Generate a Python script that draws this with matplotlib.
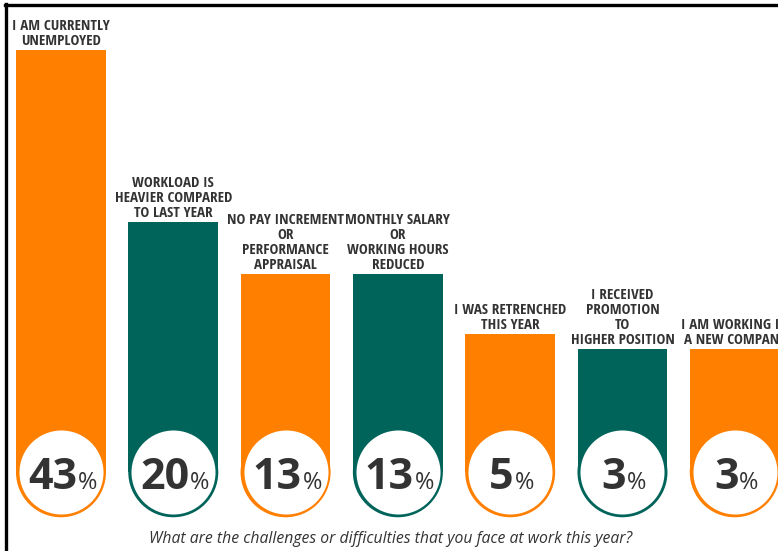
import matplotlib
matplotlib.use('Agg')
import matplotlib.pyplot as plt
from matplotlib import font_manager
from matplotlib.font_manager import FontProperties
from matplotlib.lines import Line2D

labels = [
    'I AM CURRENTLY\nUNEMPLOYED',
    'WORKLOAD IS\nHEAVIER COMPARED\nTO LAST YEAR',
    'NO PAY INCREMENT\nOR\nPERFORMANCE\nAPPRAISAL',
    'MONTHLY SALARY\nOR\nWORKING HOURS\nREDUCED',
    'I WAS RETRENCHED\nTHIS YEAR',
    'I RECEIVED\nPROMOTION\nTO\nHIGHER POSITION',
    'I AM WORKING IN\nA NEW COMPANY',
]
percent = [43, 20, 13, 13, 5, 3, 3]
colors = ['#FF7F00', '#00645A', '#FF7F00', '#00645A', '#FF7F00', '#00645A', '#FF7F00']
question = 'What are the challenges or difficulties that you face at work this year?'


def condensed_bold(size):
    # look for a bold condensed Open Sans face, otherwise fall back to the regular bold
    for f in font_manager.fontManager.ttflist:
        if 'Open Sans' in f.name and f.weight in (700, 'bold') and f.style == 'normal' \
                and ('ondensed' in f.name or f.stretch == 'condensed'):
            return FontProperties(fname=f.fname, size=size)
    return FontProperties(family='Open Sans', weight='bold', stretch='condensed', size=size)


label_fp = condensed_bold(10.8)

fig = plt.figure(figsize=(7.78, 5.51), dpi=100)
ax = fig.add_axes([0, 0, 1, 1])
ax.set_xlim(-0.543, 6.385)
ax.set_ylim(-24.04, 49.72)
ax.axis('off')

x = list(range(len(percent)))
base = -13.5  # centre of the round badge at the foot of each bar

ax.bar(x, [p - base for p in percent], bottom=base, width=0.8, color=colors, zorder=1)
ax.scatter(x, [base] * len(x), s=64.8 ** 2, c=colors, linewidths=0, zorder=2)
ax.scatter(x, [base] * len(x), s=60.5 ** 2, c='white', linewidths=0, zorder=3)

for xi, p, lab in zip(x, percent, labels):
    ax.annotate(lab, (xi, p), xytext=(0, 1.5), textcoords='offset points',
                ha='center', va='bottom', color='#333333',
                linespacing=1.1, fontproperties=label_fp)

# value badges: big bold number plus a smaller percent sign
pairs = []
for xi, p in zip(x, percent):
    num = ax.text(xi, base - 2.2, str(p), ha='right', va='baseline',
                  family='Open Sans', fontweight='bold', fontsize=31,
                  color='#333333', zorder=4)
    pct = ax.text(xi, base - 2.2, '%', ha='left', va='baseline',
                  family='Open Sans', fontsize=17, color='#333333', zorder=4)
    pairs.append((xi, num, pct))

fig.canvas.draw()
renderer = fig.canvas.get_renderer()
to_data = ax.transData.inverted()
for xi, num, pct in pairs:
    w1 = num.get_window_extent(renderer).width
    w2 = pct.get_window_extent(renderer).width
    cx = ax.transData.transform((xi, 0))[0]
    left = cx - (w1 + w2) / 2 + 1
    num.set_x(to_data.transform((left + w1, 0))[0])
    pct.set_x(to_data.transform((left + w1 + 1, 0))[0])

fig.text(0.502, 0.014, question, ha='center', va='baseline', family='Open Sans',
         style='italic', fontsize=11.3, color='#333333')

# frame lines on the left and top
fig.add_artist(Line2D([0.0078, 0.0078], [0, 0.9930], color='black', lw=2.4,
                      transform=fig.transFigure))
fig.add_artist(Line2D([0.0065, 1.0], [0.9915, 0.9915], color='black', lw=2.4,
                      transform=fig.transFigure))

fig.savefig('out.png', dpi=100, facecolor='white')
